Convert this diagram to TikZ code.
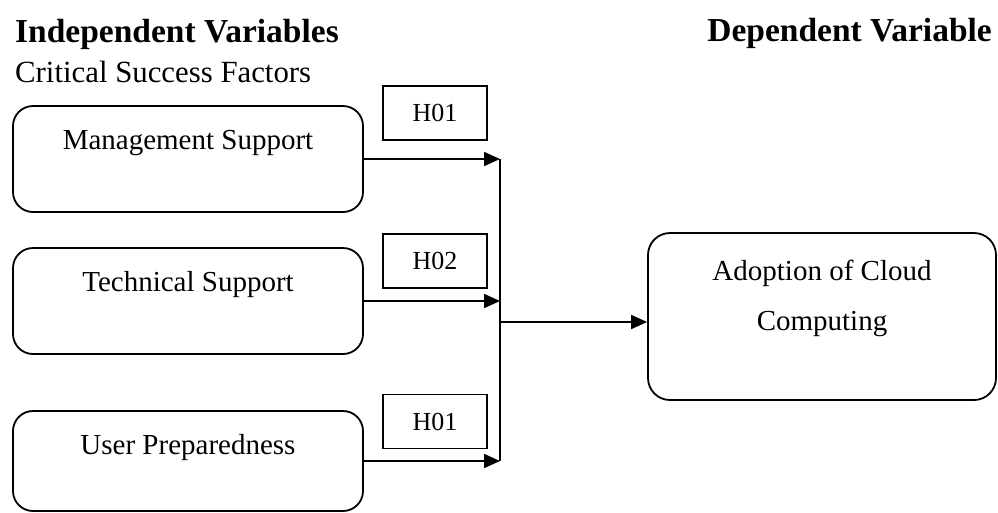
\documentclass[tikz,border=0pt]{standalone}
\usepackage{fontspec}
\setmainfont{Liberation Serif}
\usetikzlibrary{arrows.meta}

\begin{document}
\begin{tikzpicture}[x=1pt,y=-1pt,
factorbox/.style={draw=black, line width=1.8pt, rounded corners=20pt, minimum width=350pt, minimum height=106pt, inner sep=0pt, text height=43pt, text depth=63pt, font=\fontsize{29}{35}\selectfont},
hypbox/.style={draw=black, line width=1.2pt, minimum width=104pt, minimum height=54pt, inner sep=0pt, font=\fontsize{26}{30}\selectfont},
adoptbox/.style={draw=black, line width=1.8pt, rounded corners=22pt, minimum width=348pt, minimum height=167pt, inner sep=0pt, align=center, text height=97pt, text depth=70pt, font=\fontsize{29}{50}\selectfont},
heading/.style={inner sep=0pt, font=\fontsize{33.5}{40}\selectfont\bfseries},
linkarrow/.style={line width=1.8pt, -{Triangle[length=16pt,width=14pt]}}
]
    \useasboundingbox (0,0) rectangle (998,512);

    \node [heading,anchor=base west] (indep) at (15,42) {Independent Variables};
    \node [inner sep=0pt,anchor=base west,font=\fontsize{30.8}{36}\selectfont] (csf) at (15,82) {Critical Success Factors};
    \node [heading,anchor=base east] (dep) at (992,41) {Dependent Variable};

    \node [factorbox] (ms) at (188,159) {Management Support};
    \node [factorbox] (ts) at (188,301) {Technical Support};
    \node [factorbox,minimum height=100pt,text depth=57pt] (up) at (188,461) {User Preparedness};

    \node [hypbox] (h1) at (435,113) {H01};
    \node [hypbox] (h2) at (435,261) {H02};
    \node [hypbox] (h3) at (435,421.5) {H01};

    \node [adoptbox] (acc) at (822,316.5) {Adoption of Cloud\\Computing};

    \coordinate (j1) at (500,159);
    \coordinate (j2) at (500,301);
    \coordinate (j3) at (500,461);
    \coordinate (jm) at (500,322);

    \draw [linkarrow] (ms.east) -- (j1);
    \draw [linkarrow] (ts.east) -- (j2);
    \draw [linkarrow] (up.east) -- (j3);
    \draw [line width=1.8pt] (j1) -- (j3);
    \draw [linkarrow] (jm) -- (acc.west |- jm);
\end{tikzpicture}
\end{document}
